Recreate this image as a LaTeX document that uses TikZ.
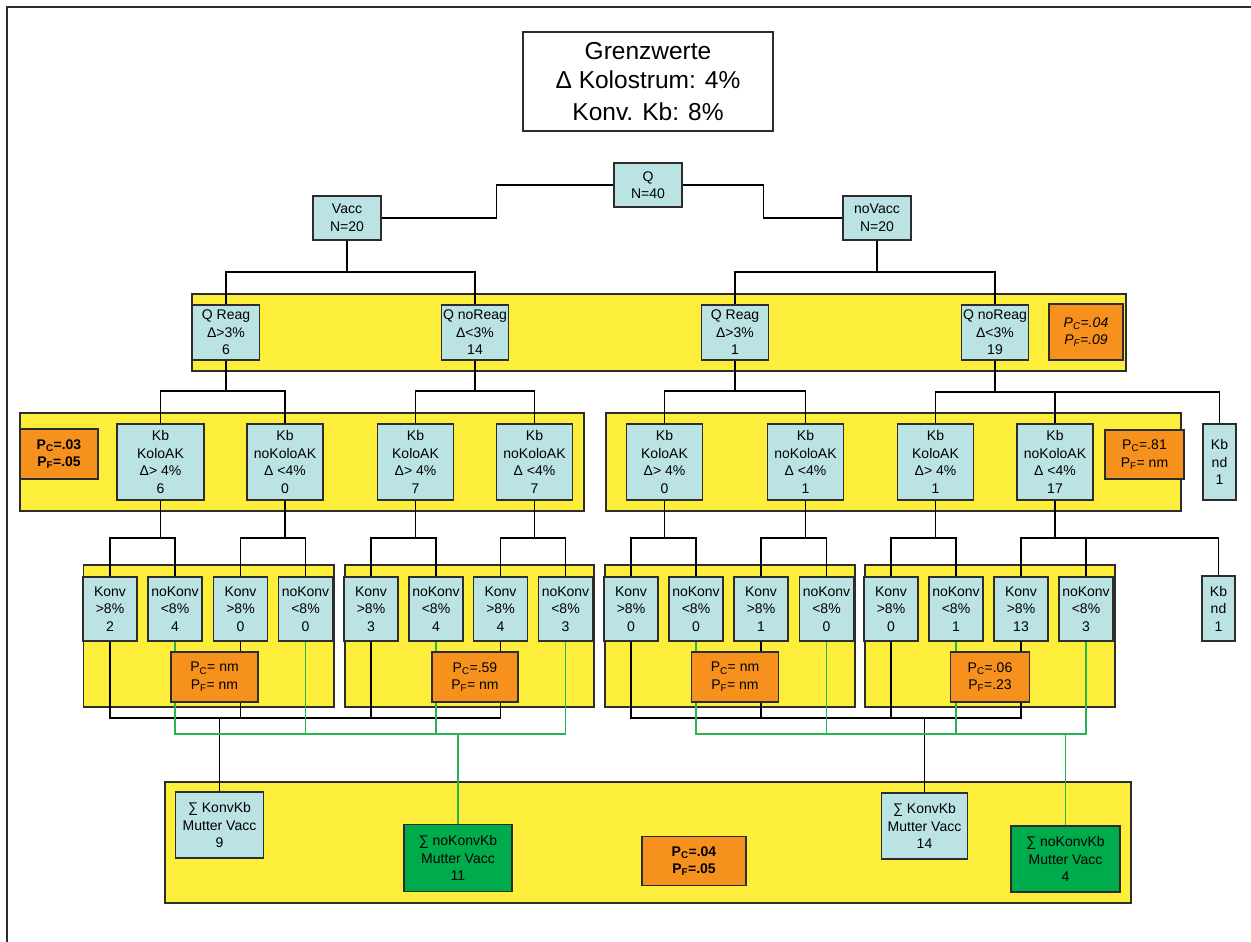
\documentclass[tikz,border=0pt]{standalone}
\usepackage{fontspec}
\setmainfont{Liberation Sans}
\usepackage{xcolor}
\usepackage{tikz}

\definecolor{cellblue}{RGB}{187,227,228}
\definecolor{bandyellow}{RGB}{252,238,58}
\definecolor{probor}{RGB}{247,145,30}
\definecolor{sumgreen}{RGB}{0,171,76}
\definecolor{wiregreen}{RGB}{40,180,80}
\definecolor{edgegray}{RGB}{45,45,45}

\pgfdeclarelayer{back}
\pgfdeclarelayer{wires}
\pgfsetlayers{back,wires,main}

\begin{document}
\begin{tikzpicture}[x=1pt,y=-1pt,
  cell/.style={draw=edgegray, line width=1.3pt, fill=cellblue, rectangle,
    inner sep=0pt, align=center, font=\fontsize{14}{17.5}\selectfont},
  headbox/.style={cell, minimum width=68pt, minimum height=44pt},
  reag/.style={cell, minimum width=67pt, minimum height=55pt},
  kolo/.style={cell, minimum width=76pt, minimum height=76pt},
  konv/.style={cell, minimum width=54pt, minimum height=64pt},
  ndbox/.style={cell, minimum width=33pt},
  pbox/.style={cell, fill=probor},
  sumbox/.style={cell, minimum width=87pt, minimum height=66pt},
  nosumbox/.style={cell, fill=sumgreen, minimum width=108pt, minimum height=67pt},
  band/.style={draw=edgegray, line width=1.3pt, fill=bandyellow},
  wire/.style={line width=1.5pt, black},
  gwire/.style={line width=1.5pt, wiregreen},
]
\useasboundingbox (0,0) rectangle (1251,942);

% yellow groups
\begin{pgfonlayer}{back}
\draw[line width=2pt, edgegray] (7,942) -- (7,7.3) -- (1251,7.3);
\draw[band] (192,294) rectangle (1126,371);
\draw[band] (20,413) rectangle (584,511);
\draw[band] (606,413) rectangle (1181,511);
\draw[band] (83.6,565) rectangle (334,707);
\draw[band] (345,565) rectangle (594,707);
\draw[band] (605,565) rectangle (855,707);
\draw[band] (865,565) rectangle (1115,707);
\draw[band] (165,782) rectangle (1131,903);
\end{pgfonlayer}

\node[draw=edgegray, line width=2pt, fill=white, minimum width=250pt,
  minimum height=99pt, align=center, font=\fontsize{24.5}{31.5}\selectfont]
  (limits) at (648,81.5) {\raisebox{-2pt}{Grenzwerte}\\Δ Kolostrum: 4\%\\Konv. Kb: 8\%};

\node[headbox] (q) at (648,185) {Q\\N=40};
\node[headbox] (vacc) at (347,218) {Vacc\\N=20};
\node[headbox] (novacc) at (877,218) {noVacc\\N=20};

\node[reag] (r1) at (226,332.5) {Q Reag\\Δ>3\%\\6};
\node[reag] (nr1) at (475,332.5) {Q noReag\\Δ<3\%\\14};
\node[reag] (r2) at (735,332.5) {Q Reag\\Δ>3\%\\1};
\node[reag] (nr2) at (995,332.5) {Q noReag\\Δ<3\%\\19};
\node[pbox, minimum width=74pt, minimum height=56pt, font=\fontsize{14}{17.5}\selectfont\itshape]
  (p1) at (1086,332) {P\textsubscript{C}=.04\\P\textsubscript{F}=.09};

\node[kolo, minimum width=87pt] (k1) at (160.5,462) {Kb\\KoloAK\\Δ> 4\%\\6};
\node[kolo] (nk1) at (285,462) {Kb\\noKoloAK\\Δ <4\%\\0};
\node[kolo] (k2) at (415.5,462) {Kb\\KoloAK\\Δ> 4\%\\7};
\node[kolo] (nk2) at (534.5,462) {Kb\\noKoloAK\\Δ <4\%\\7};
\node[kolo] (k3) at (664.5,462) {Kb\\KoloAK\\Δ> 4\%\\0};
\node[kolo] (nk3) at (805.5,462) {Kb\\noKoloAK\\Δ <4\%\\1};
\node[kolo] (k4) at (935.5,462) {Kb\\KoloAK\\Δ> 4\%\\1};
\node[kolo] (nk4) at (1055,462) {Kb\\noKoloAK\\Δ <4\%\\17};
\node[pbox, minimum width=78pt, minimum height=50pt, font=\fontsize{14}{17.5}\selectfont\bfseries]
  (p2) at (59,454) {P\textsubscript{C}=.03\\P\textsubscript{F}=.05};
\node[pbox, minimum width=79pt, minimum height=49pt]
  (p3) at (1144.5,454.5) {P\textsubscript{C}=.81\\P\textsubscript{F}= nm};
\node[ndbox, minimum height=76pt] (nd1) at (1219.5,462) {Kb\\nd\\1};

\node[konv] (c1) at (110,609) {Konv\\>8\%\\2};
\node[konv] (n1) at (175,609) {noKonv\\<8\%\\4};
\node[konv] (c2) at (240.5,609) {Konv\\>8\%\\0};
\node[konv] (n2) at (305.5,609) {noKonv\\<8\%\\0};
\node[konv] (c3) at (371,609) {Konv\\>8\%\\3};
\node[konv] (n3) at (436,609) {noKonv\\<8\%\\4};
\node[konv] (c4) at (500.5,609) {Konv\\>8\%\\4};
\node[konv] (n4) at (565.5,609) {noKonv\\<8\%\\3};
\node[konv] (c5) at (631,609) {Konv\\>8\%\\0};
\node[konv] (n5) at (696,609) {noKonv\\<8\%\\0};
\node[konv] (c6) at (761,609) {Konv\\>8\%\\1};
\node[konv] (n6) at (826.5,609) {noKonv\\<8\%\\0};
\node[konv] (c7) at (891,609) {Konv\\>8\%\\0};
\node[konv] (n7) at (956,609) {noKonv\\<8\%\\1};
\node[konv] (c8) at (1021,609) {Konv\\>8\%\\13};
\node[konv] (n8) at (1086,609) {noKonv\\<8\%\\3};
\node[ndbox, minimum height=65pt] (nd2) at (1218.5,608.5) {Kb\\nd\\1};

\node[pbox, minimum width=87pt, minimum height=50pt] (pA) at (214.5,677)
  {P\textsubscript{C}= nm\\P\textsubscript{F}= nm};
\node[pbox, minimum width=86pt, minimum height=50pt] (pB) at (475,677)
  {P\textsubscript{C}=.59\\P\textsubscript{F}= nm};
\node[pbox, minimum width=87pt, minimum height=50pt] (pC) at (735,677)
  {P\textsubscript{C}= nm\\P\textsubscript{F}= nm};
\node[pbox, minimum width=79pt, minimum height=50pt] (pD) at (990,677)
  {P\textsubscript{C}=.06\\P\textsubscript{F}=.23};

\node[sumbox, minimum width=88pt] (s1) at (219.5,825) {∑ KonvKb\\Mutter Vacc\\9};
\node[nosumbox] (g1) at (458,858) {∑ noKonvKb\\Mutter Vacc\\11};
\node[pbox, minimum width=104pt, minimum height=49pt, font=\fontsize{14}{17.5}\selectfont\bfseries]
  (p5) at (694,861) {P\textsubscript{C}=.04\\P\textsubscript{F}=.05};
\node[sumbox, minimum width=86pt] (s2) at (924.5,826) {∑ KonvKb\\Mutter Vacc\\14};
\node[nosumbox, minimum width=109pt, minimum height=66pt] (g2) at (1065.5,859) {∑ noKonvKb\\Mutter Vacc\\4};

\begin{pgfonlayer}{wires}
% tree
\draw[wire] (q.west) -- ++(-117,0) |- (vacc.east);
\draw[wire] (q.east) -- ++(81,0) |- (novacc.west);

\coordinate (vbus) at (347,272);
\coordinate (nvbus) at (877,272);
\draw[wire] (vacc.south) -- (vbus) -| (r1.north);
\draw[wire] (vbus) -| (nr1.north);
\draw[wire] (novacc.south) -- (nvbus) -| (r2.north);
\draw[wire] (nvbus) -| (nr2.north);

\coordinate (b1) at (226,391);
\coordinate (b2) at (475,391);
\coordinate (b3) at (735,391);
\coordinate (b4) at (995,392);
\draw[wire] (r1.south) -- (b1) -| (k1.north);
\draw[wire] (b1) -| (nk1.north);
\draw[wire] (nr1.south) -- (b2) -| (k2.north);
\draw[wire] (b2) -| (nk2.north);
\draw[wire] (r2.south) -- (b3) -| (k3.north);
\draw[wire] (b3) -| (nk3.north);
\draw[wire] (nr2.south) -- (b4) -| (k4.north);
\draw[wire] (b4) -| (nk4.north);
\draw[wire] (b4) -| (nd1.north);

\coordinate (e1) at (160.5,538);
\coordinate (e2) at (285,538);
\coordinate (e3) at (415.5,538);
\coordinate (e4) at (534.5,538);
\coordinate (e5) at (664.5,538);
\coordinate (e6) at (805.5,538);
\coordinate (e7) at (935.5,538);
\coordinate (e8) at (1055,538);
\draw[wire] (k1.south) -- (e1) -| (c1.north);
\draw[wire] (e1) -| (n1.north);
\draw[wire] (nk1.south) -- (e2) -| (c2.north);
\draw[wire] (e2) -| (n2.north);
\draw[wire] (k2.south) -- (e3) -| (c3.north);
\draw[wire] (e3) -| (n3.north);
\draw[wire] (nk2.south) -- (e4) -| (c4.north);
\draw[wire] (e4) -| (n4.north);
\draw[wire] (k3.south) -- (e5) -| (c5.north);
\draw[wire] (e5) -| (n5.north);
\draw[wire] (nk3.south) -- (e6) -| (c6.north);
\draw[wire] (e6) -| (n6.north);
\draw[wire] (k4.south) -- (e7) -| (c7.north);
\draw[wire] (e7) -| (n7.north);
\draw[wire] (nk4.south) -- (e8) -| (c8.north);
\draw[wire] (e8) -| (n8.north);
\draw[wire] (e8) -| (nd2.north);

% sums
\coordinate (kbusL) at (219.5,718);
\coordinate (kbusR) at (924.5,718);
\coordinate (gbusL) at (458,734);
\coordinate (gbusR) at (1065.5,734);
\draw[wire] (c1.south) |- (kbusL) -- (s1.north);
\draw[wire] (c2.south) |- (kbusL);
\draw[wire] (c3.south) |- (kbusL);
\draw[wire] (c4.south) |- (kbusL);
\draw[wire] (c5.south) |- (kbusR) -- (s2.north);
\draw[wire] (c6.south) |- (kbusR);
\draw[wire] (c7.south) |- (kbusR);
\draw[wire] (c8.south) |- (kbusR);
\draw[gwire] (n1.south) |- (gbusL) -- (g1.north);
\draw[gwire] (n2.south) |- (gbusL);
\draw[gwire] (n3.south) |- (gbusL);
\draw[gwire] (n4.south) |- (gbusL);
\draw[gwire] (n5.south) |- (gbusR) -- (g2.north);
\draw[gwire] (n6.south) |- (gbusR);
\draw[gwire] (n7.south) |- (gbusR);
\draw[gwire] (n8.south) |- (gbusR);
\end{pgfonlayer}
\end{tikzpicture}
\end{document}
